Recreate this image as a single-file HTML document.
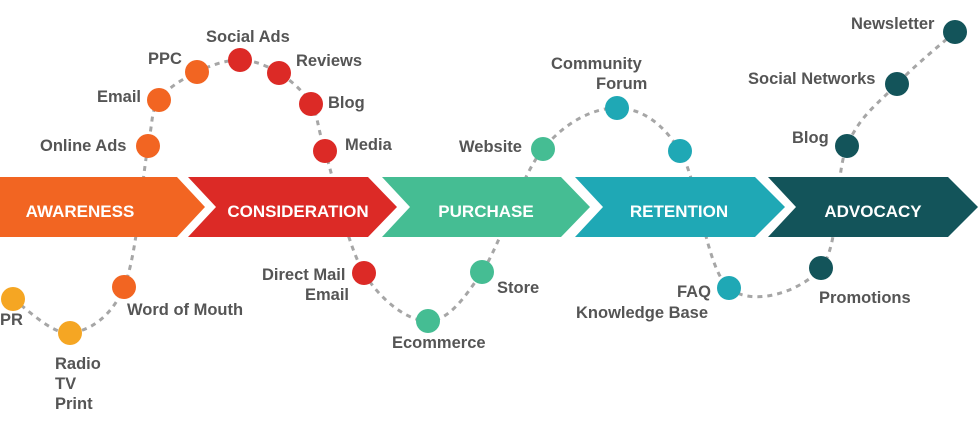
<!DOCTYPE html>
<html><head><meta charset="utf-8"><style>
body{margin:0;width:980px;height:424px;background:#fff;overflow:hidden}
svg{display:block}
.l{font-family:"Liberation Sans",sans-serif;font-weight:bold;font-size:16.5px;fill:#555}
.b{font-family:"Liberation Sans",sans-serif;font-weight:bold;font-size:17px;fill:#fff}
</style></head><body>
<svg width="980" height="424" viewBox="0 0 980 424">
<path id="curve" fill="none" stroke="#a6a6a6" stroke-width="3" stroke-dasharray="5,5"/>
<polygon points="0,177 177,177 205,207 177,237 0,237" fill="#F26522"/>
<polygon points="188,177 368,177 397,207 368,237 188,237 216,207" fill="#DC2A26"/>
<polygon points="382,177 561,177 590,207 561,237 382,237 410,207" fill="#45BD93"/>
<polygon points="575,177 755,177 785,207 755,237 575,237 603,207" fill="#1FA8B5"/>
<polygon points="768,177 948,177 978,207 948,237 768,237 796,207" fill="#13545A"/>
<text class="b" x="80" y="217" text-anchor="middle">AWARENESS</text>
<text class="b" x="298" y="217" text-anchor="middle">CONSIDERATION</text>
<text class="b" x="486" y="217" text-anchor="middle">PURCHASE</text>
<text class="b" x="679" y="217" text-anchor="middle">RETENTION</text>
<text class="b" x="873" y="217" text-anchor="middle">ADVOCACY</text>
<g id="dots"></g>
<text class="l" x="0" y="325">PR</text>
<text class="l" x="55" y="369">Radio</text>
<text class="l" x="55" y="389">TV</text>
<text class="l" x="55" y="409">Print</text>
<text class="l" x="127" y="315">Word of Mouth</text>
<text class="l" x="40" y="151">Online Ads</text>
<text class="l" x="97" y="102">Email</text>
<text class="l" x="148" y="64">PPC</text>
<text class="l" x="206" y="42">Social Ads</text>
<text class="l" x="296" y="66">Reviews</text>
<text class="l" x="328" y="108">Blog</text>
<text class="l" x="345" y="150">Media</text>
<text class="l" x="262" y="280">Direct Mail</text>
<text class="l" x="305" y="300">Email</text>
<text class="l" x="392" y="348">Ecommerce</text>
<text class="l" x="497" y="293">Store</text>
<text class="l" x="459" y="152">Website</text>
<text class="l" x="551" y="69">Community</text>
<text class="l" x="596" y="89">Forum</text>
<text class="l" x="677" y="297">FAQ</text>
<text class="l" x="576" y="318">Knowledge Base</text>
<text class="l" x="819" y="303">Promotions</text>
<text class="l" x="792" y="143">Blog</text>
<text class="l" x="748" y="84">Social Networks</text>
<text class="l" x="851" y="29">Newsletter</text>
</svg>
<script>
var P=[[13,299,"#F5A623"],[70,333,"#F5A623"],[124,287,"#F26522"],[148,146,"#F26522"],[159,100,"#F26522"],[197,72,"#F26522"],[240,60,"#DC2A26"],[279,73,"#DC2A26"],[311,104,"#DC2A26"],[325,151,"#DC2A26"],[364,273,"#DC2A26"],[428,321,"#45BD93"],[482,272,"#45BD93"],[543,149,"#45BD93"],[617,108,"#1FA8B5"],[680,151,"#1FA8B5"],[729,288,"#1FA8B5"],[821,268,"#13545A"],[847,146,"#13545A"],[897,84,"#13545A"],[955,32,"#13545A"]];
var d="M"+P[0][0]+" "+P[0][1];
for(var i=0;i<P.length-1;i++){var p0=P[Math.max(i-1,0)],p1=P[i],p2=P[i+1],p3=P[Math.min(i+2,P.length-1)];
d+=" C"+(p1[0]+(p2[0]-p0[0])/6)+" "+(p1[1]+(p2[1]-p0[1])/6)+" "+(p2[0]-(p3[0]-p1[0])/6)+" "+(p2[1]-(p3[1]-p1[1])/6)+" "+p2[0]+" "+p2[1];}
document.getElementById("curve").setAttribute("d",d);
var g=document.getElementById("dots"),s="";
P.forEach(function(p){s+='<circle cx="'+p[0]+'" cy="'+p[1]+'" r="12" fill="'+p[2]+'"/>';});
g.innerHTML=s;
</script>
</body></html>
